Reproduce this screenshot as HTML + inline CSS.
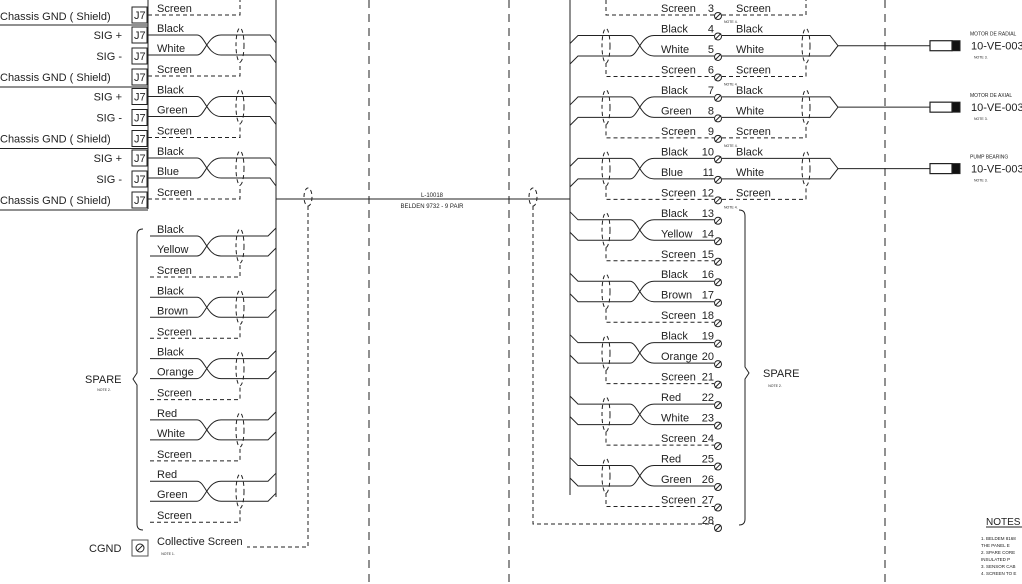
<!DOCTYPE html>
<html><head><style>
html,body{margin:0;padding:0;background:#fff;}
svg{display:block;font-family:"Liberation Sans",sans-serif;}
</style></head><body>
<svg id="s" width="1022" height="584" viewBox="0 0 1022 584" xmlns="http://www.w3.org/2000/svg">
<g id="g" stroke="#222" stroke-width="1" fill="none"></g>
<g id="t" fill="#222" font-size="11"></g>
</svg>
<script>
var g=document.getElementById('g'),t=document.getElementById('t');
var NS='http://www.w3.org/2000/svg';
function el(p,n,a,txt){var e=document.createElementNS(NS,n);for(var k in a)e.setAttribute(k,a[k]);if(txt!=null)e.textContent=txt;p.appendChild(e);return e;}
function P(d,dash,w){var a={d:d};if(dash)a['stroke-dasharray']=(dash===2?'8,6':'4,3');if(w)a['stroke-width']=w;el(g,'path',a);}
function T(x,y,s,sz,anc){var a={x:x,y:y+4};if(sz)a['font-size']=sz;if(anc)a['text-anchor']=anc;el(t,'text',a,s);}
function term(x,y){el(g,'circle',{cx:x,cy:y,r:3.5});P('M'+(x-3)+','+(y+3)+'L'+(x+3)+','+(y-3));}
function shield(x,y1,y2){el(g,'ellipse',{cx:x,cy:(y1+y2)/2,rx:4,ry:(y2-y1)/2+7,'stroke-dasharray':'4,3'});}
function twist(x,y1,y2){P('M'+x+','+y1+'C'+(x+8)+','+y1+' '+(x+10)+','+y2+' '+(x+24)+','+y2);P('M'+x+','+y2+'C'+(x+8)+','+y2+' '+(x+10)+','+y1+' '+(x+24)+','+y1);}
var RY=function(n){return 8+20.48*(n-3);};
P('M369,0V584',2);P('M509,0V584',2);P('M885,0V584',2);
P('M276,0V497');P('M570,0V495');
P('M276,199H570');
T(432,193,'L-10018',6,'middle');T(432,204,'BELDEN 9732 - 9 PAIR',6,'middle');
el(g,'ellipse',{cx:308,cy:197,rx:4,ry:9,'stroke-dasharray':'4,3'});
el(g,'ellipse',{cx:533,cy:197,rx:4,ry:9,'stroke-dasharray':'4,3'});
P('M308,206V547H247',true);P('M533,206V524H714',true);
var cols=[['Black','White'],['Black','Green'],['Black','Blue']];
T(157,8,'Screen');P('M148,15H240V0',true);
T(0,16,'Chassis GND  ( Shield)');
el(g,'rect',{x:132,y:7,width:15,height:16});T(134,15,'J7');
P('M0,25H148');
for(var i=0;i<3;i++){
 var b=28+61.5*i,y1=b+7,y2=b+27,ys=b+48;
 [[b+7,'SIG +'],[b+28,'SIG -']].forEach(function(r){T(122,r[0],r[1],null,'end');el(g,'rect',{x:132,y:r[0]-8,width:15,height:16});T(134,r[0],'J7');});
 T(0,b+49,'Chassis GND  ( Shield)');el(g,'rect',{x:132,y:b+41,width:15,height:16});T(134,b+49,'J7');
 P('M0,'+(b+59)+'H148');
 T(157,b,cols[i][0]);T(157,b+20,cols[i][1]);T(157,b+41,'Screen');
 P('M148,'+y1+'H197');P('M148,'+y2+'H197');twist(197,y1,y2);
 P('M221,'+y1+'H270L276,'+(y1+8));P('M221,'+y2+'H270L276,'+(y2+8));
 shield(240,y1,y2);P('M148,'+(ys)+'H240V'+(y2+7),true);
}
P('M148,0V209');
var sp=[['Black','Yellow'],['Black','Brown'],['Black','Orange'],['Red','White'],['Red','Green']];
for(var i=0;i<5;i++){
 var b=229+61.3*i,y1=b+7,y2=b+27,ys=b+48;
 T(157,b,sp[i][0]);T(157,b+20,sp[i][1]);T(157,b+41,'Screen');
 P('M150,'+y1+'H197');P('M150,'+y2+'H197');twist(197,y1,y2);
 P('M221,'+y1+'H268L276,'+(y1-8));P('M221,'+y2+'H268L276,'+(y2-8));
 shield(240,y1,y2);P('M150,'+ys+'H240V'+(y2+7),true);
}
P('M143,229Q137,229 137,235V373L133,379L137,385V524Q137,530 143,530');
T(85,379,'SPARE');T(104,387,'NOTE 2.',3.5,'middle');
T(89,548,'CGND');el(g,'rect',{x:132,y:540,width:16,height:16,stroke:'#555'});
el(g,'circle',{cx:140,cy:548,r:4});P('M137,551L143,545');
T(157,541,'Collective Screen');T(168,551,'NOTE 1.',3.5,'middle');
var rlab={3:'Screen',4:'Black',5:'White',6:'Screen',7:'Black',8:'Green',9:'Screen',10:'Black',11:'Blue',12:'Screen',13:'Black',14:'Yellow',15:'Screen',16:'Black',17:'Brown',18:'Screen',19:'Black',20:'Orange',21:'Screen',22:'Red',23:'White',24:'Screen',25:'Red',26:'Green',27:'Screen'};
for(var n=3;n<=28;n++){var y=RY(n);if(rlab[n])T(661,y,rlab[n]);T(714,y,String(n),null,'end');term(718,y+8);}
P('M606,0V15H714',true);
for(var p=0;p<8;p++){
 var n=4+3*p,y1=RY(n)+7,y2=RY(n+1)+7,ys=RY(n+2)+7;
 if(p<3){P('M570,'+(y1+8)+'L578,'+y1+'H630');P('M570,'+(y2+8)+'L578,'+y2+'H630');}
 else{P('M570,'+(y1-8)+'L578,'+y1+'H630');P('M570,'+(y2-8)+'L578,'+y2+'H630');}
 twist(630,y1,y2);P('M654,'+y1+'H714');P('M654,'+y2+'H714');
 shield(606,y1,y2);P('M606,'+(y2+7)+'V'+ys+'H714',true);
}
var sens=['MOTOR DE RADIAL','MOTOR DE AXIAL','PUMP BEARING'];
for(var p=0;p<3;p++){
 var n=4+3*p,y1=RY(n)+7,y2=RY(n+1)+7,ys=RY(n+2)+7,ym=(y1+y2)/2;
 T(736,RY(n),'Black');T(736,RY(n+1),'White');T(736,RY(n+2),'Screen');
 T(724,RY(n+2)+12,'NOTE 4.',3.5);
 P('M722,'+y1+'H830L838,'+ym+'L830,'+y2+'H722');
 P('M722,'+ys+'H806V'+(y2+7),true);shield(806,y1,y2);
 P('M838,'+ym+'H930');
 el(g,'rect',{x:930,y:ym-5,width:22,height:10,'stroke-width':1.2});
 el(g,'rect',{x:952,y:ym-5,width:8,height:10,fill:'#111'});
 T(970,ym-14,sens[p],5);T(971,ym,'10-VE-003',11);T(974,ym+9,'NOTE 3.',3.5);
}
T(736,8,'Screen');P('M722,15H806V0',true);T(724,19,'NOTE 4.',3.5);
P('M739,210Q745,210 745,216V367L749,373L745,379V519Q745,525 739,525');
T(763,373,'SPARE');T(775,383,'NOTE 2.',3.5,'middle');
T(986,521,'NOTES',10);P('M986,527H1022');
var nt=['1. BELDEM 8168','   THE PANEL E','2. SPARE CORE','   INSULATED P','3. SENSOR CAB','4. SCREEN TO E'];
nt.forEach(function(s,i){T(981,536+7*i,s,4.5);});
</script>
</body></html>
